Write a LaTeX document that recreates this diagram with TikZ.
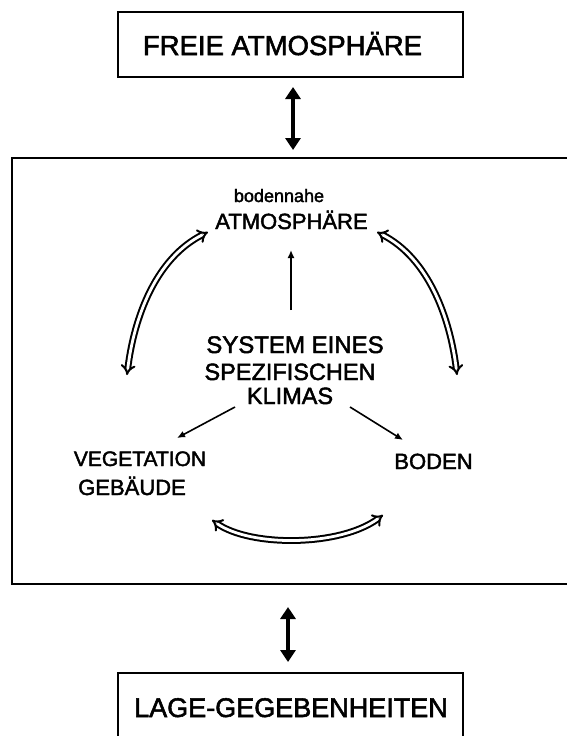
\documentclass[tikz,border=0pt]{standalone}
\usepackage{fontspec}
\setmainfont{Liberation Sans}[FakeBold=2,BoldFont=Liberation Sans]
\usetikzlibrary{arrows.meta}
\begin{document}
\begin{tikzpicture}[x=1pt,y=-1pt,
  boxline/.style={draw=black,line width=1.8pt},
  lbl/.style={inner sep=0pt,anchor=base,text=black},
  thickarrow/.style={line width=4.5pt,{Triangle[length=12pt,width=15pt]}-{Triangle[length=12pt,width=15pt]}},
  dblarrow/.style={double=white,draw=black,line width=2pt,double distance=2.8pt,{Implies[scale=1.5]}-{Implies[scale=1.5]}},
  thinarrow/.style={line width=1.6pt,-{Latex[length=8pt,width=7pt]}}]
\useasboundingbox (0,0) rectangle (567,736);
\clip (0,0) rectangle (567,736);
% boxes
\draw[boxline] (118,12) rectangle (463,77);
\draw[boxline] (12,158) rectangle (580,584);
\draw[boxline] (118,673) rectangle (463,760);
% labels
\node[lbl,font=\fontsize{27.5}{30}\selectfont\bfseries] (freie) at (282.5,55) {FREIE ATMOSPHÄRE};
\node[lbl,font=\fontsize{18}{20}\selectfont\bfseries] (boden1) at (279,202) {bodennahe};
\node[lbl,font=\fontsize{22}{24}\selectfont\bfseries] (atm) at (291.5,229) {ATMOSPHÄRE};
\node[lbl,font=\fontsize{24}{26}\selectfont\bfseries] (sys1) at (295,353) {SYSTEM EINES};
\node[lbl,font=\fontsize{23.5}{26}\selectfont\bfseries] (sys2) at (290,380) {SPEZIFISCHEN};
\node[lbl,font=\fontsize{23.5}{26}\selectfont\bfseries] (sys3) at (290,404) {KLIMAS};
\node[lbl,font=\fontsize{21}{24}\selectfont\bfseries] (veg) at (140,466) {VEGETATION};
\node[lbl,font=\fontsize{22}{24}\selectfont\bfseries] (geb) at (132,495) {GEBÄUDE};
\node[lbl,font=\fontsize{22}{24}\selectfont\bfseries] (boden) at (433.5,469) {BODEN};
\node[lbl,font=\fontsize{27}{30}\selectfont\bfseries] (lage) at (291,717) {LAGE-GEGEBENHEITEN};
% connector end points
\coordinate (t1) at (293,87);
\coordinate (t2) at (293,150);
\coordinate (b1) at (288,607);
\coordinate (b2) at (288,662);
\coordinate (la) at (208,232);
\coordinate (lb) at (127,375);
\coordinate (ra) at (377,232);
\coordinate (rb) at (457,375);
\coordinate (ba) at (212,520);
\coordinate (bb) at (383,515);
\coordinate (up1) at (291,310);
\coordinate (up2) at (291,250);
\coordinate (dl1) at (235,407);
\coordinate (dl2) at (177,438);
\coordinate (dr1) at (350,407);
\coordinate (dr2) at (403,440);
% arrows
\draw[thickarrow] (t1) -- (t2);
\draw[thickarrow] (b1) -- (b2);
\draw[dblarrow] (la) .. controls (156,258) and (134,317) .. (lb);
\draw[dblarrow] (ra) .. controls (428,258) and (450,317) .. (rb);
\draw[dblarrow] (ba) .. controls (250,547) and (340,547) .. (bb);
\draw[thinarrow] (up1) -- (up2);
\draw[thinarrow] (dl1) -- (dl2);
\draw[thinarrow] (dr1) -- (dr2);
\end{tikzpicture}
\end{document}
